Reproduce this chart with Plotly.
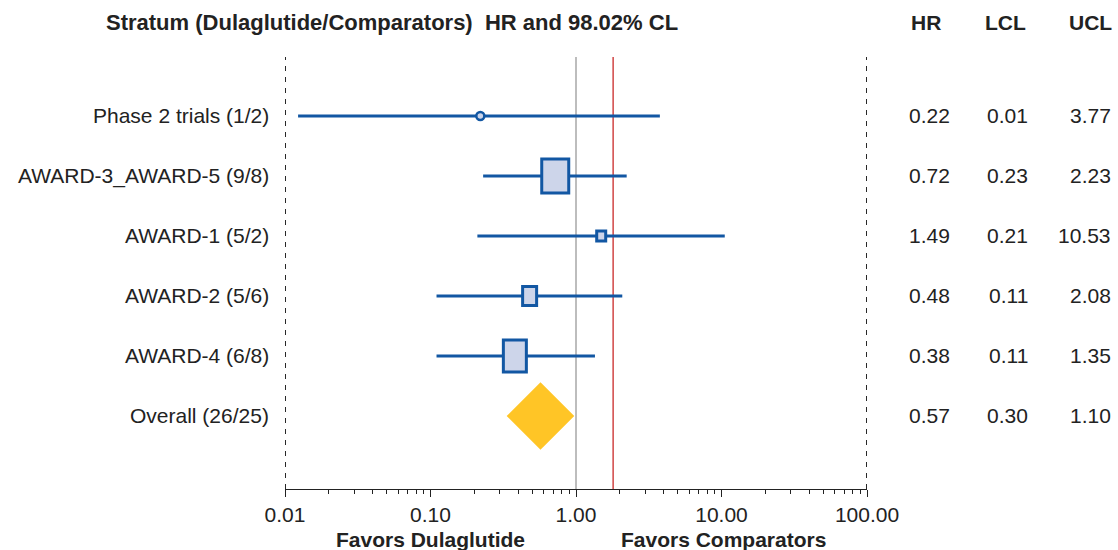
import plotly.graph_objects as go
import math

# ---- data ----
strata = ["Phase 2 trials (1/2)", "AWARD-3_AWARD-5 (9/8)", "AWARD-1 (5/2)",
          "AWARD-2 (5/6)", "AWARD-4 (6/8)", "Overall (26/25)"]
hr = [0.22, 0.72, 1.49, 0.48, 0.38, 0.57]
lcl = [0.01, 0.23, 0.21, 0.11, 0.11, 0.30]
ucl = [3.77, 2.23, 10.53, 2.08, 1.35, 1.10]
# CI line ends as drawn (lowest drawn slightly above 0.01)
ci_lo_drawn = [0.0123, 0.23, 0.21, 0.11, 0.11]
ci_hi_drawn = [3.77, 2.23, 10.53, 2.08, 1.35]
hr_txt = ["0.22", "0.72", "1.49", "0.48", "0.38", "0.57"]
lcl_txt = ["0.01", "0.23", "0.21", "0.11", "0.11", "0.30"]
ucl_txt = ["3.77", "2.23", "10.53", "2.08", "1.35", "1.10"]
margin_line = 1.8
tick_vals = [0.01, 0.1, 1, 10, 100]
tick_text = ["0.01", "0.10", "1.00", "10.00", "100.00"]

# ---- styles ----
BLUE = "#1257a3"
FILL = "#cdd5ea"
GOLD = "#ffc526"
RED = "#d4504f"
TXT = "#222"
FONT = "Liberation Sans, Arial, Helvetica, sans-serif"
FS = 21
box_w = [None, 27, 9, 14, 23]   # pixel sizes of weight boxes
box_h = [None, 34, 10, 19, 32]
PLOT_W = 582
PX_PER_DECADE = PLOT_W / (math.log10(tick_vals[-1]) - math.log10(tick_vals[0]))

rows = list(range(len(strata)))

fig = go.Figure()

# CI lines
for i in range(5):
    fig.add_trace(go.Scatter(x=[ci_lo_drawn[i], ci_hi_drawn[i]], y=[rows[i], rows[i]],
                             mode="lines", line=dict(color=BLUE, width=3),
                             showlegend=False, hoverinfo="skip"))

# phase 2 circle
fig.add_trace(go.Scatter(x=[hr[0]], y=[rows[0]], mode="markers",
                         marker=dict(symbol="circle", size=8, color=FILL,
                                     line=dict(color=BLUE, width=2.5)),
                         showlegend=False))

# overall diamond
fig.add_trace(go.Scatter(x=[hr[5]], y=[rows[5]], mode="markers",
                         marker=dict(symbol="diamond", size=52, color=GOLD,
                                     line=dict(width=0)),
                         showlegend=False))

shapes = []
# weight boxes, centred on HR with a fixed pixel width
for i in range(1, 5):
    half = box_w[i] / 2 / PX_PER_DECADE
    shapes.append(dict(type="rect", xref="x", yref="y",
                       x0=hr[i] * 10 ** (-half), x1=hr[i] * 10 ** half,
                       ysizemode="pixel", yanchor=rows[i],
                       y0=-box_h[i] / 2, y1=box_h[i] / 2,
                       fillcolor=FILL, line=dict(color=BLUE, width=3), layer="above"))

# reference lines
for xv in (tick_vals[0], tick_vals[-1]):
    shapes.append(dict(type="line", xref="x", yref="paper", x0=xv, x1=xv, y0=0, y1=1,
                       line=dict(color="#111", width=1.8, dash="5px,6px"), layer="below"))
shapes.append(dict(type="line", xref="x", yref="paper", x0=1, x1=1, y0=0, y1=1,
                   line=dict(color="#9a9a9a", width=1.3), layer="below"))
shapes.append(dict(type="line", xref="x", yref="paper", x0=margin_line, x1=margin_line, y0=0, y1=1,
                   line=dict(color=RED, width=1.6), layer="below"))

annotations = []
# row labels and numeric columns
for i in rows:
    annotations.append(dict(xref="paper", yref="y", x=-0.024, y=rows[i], text=strata[i],
                            xanchor="right", yanchor="middle", showarrow=False,
                            font=dict(family=FONT, size=FS, color=TXT)))
    for xp, col in ((1.146, hr_txt), (1.280, lcl_txt), (1.4227, ucl_txt)):
        annotations.append(dict(xref="paper", yref="y", x=xp, y=rows[i], text=col[i],
                                xanchor="right", yanchor="middle", showarrow=False,
                                font=dict(family=FONT, size=FS, color=TXT)))

# headers
annotations.append(dict(xref="paper", yref="paper", x=0.184, y=1.081,
                        text="<b>Stratum (Dulaglutide/Comparators)&nbsp; HR and 98.02% CL</b>",
                        xanchor="center", yanchor="middle", showarrow=False,
                        font=dict(family=FONT, size=22, color=TXT)))
for xp, t in ((1.1014, "HR"), (1.2388, "LCL"), (1.3832, "UCL")):
    annotations.append(dict(xref="paper", yref="paper", x=xp, y=1.081, text="<b>%s</b>" % t,
                            xanchor="center", yanchor="middle", showarrow=False,
                            font=dict(family=FONT, size=FS, color=TXT)))
# favors labels
for xp, t in ((0.25, "Favors Dulaglutide"), (0.7526, "Favors Comparators")):
    annotations.append(dict(xref="paper", yref="paper", x=xp, y=-0.117, text="<b>%s</b>" % t,
                            xanchor="center", yanchor="middle", showarrow=False,
                            font=dict(family=FONT, size=FS, color=TXT)))

minor_vals = [k * 10 ** e for e in range(-2, 2) for k in range(2, 10)]

fig.update_layout(
    width=1118, height=550,
    margin=dict(l=285, r=251, t=57, b=61),
    paper_bgcolor="white", plot_bgcolor="white",
    showlegend=False,
    shapes=shapes, annotations=annotations,
    xaxis=dict(type="log", range=[math.log10(tick_vals[0]), math.log10(tick_vals[-1])],
               tickvals=tick_vals, ticktext=tick_text,
               showgrid=False, zeroline=False,
               showline=True, linecolor="#222", linewidth=1.3,
               ticks="outside", ticklen=7, tickwidth=1.3, tickcolor="#222",
               tickfont=dict(family=FONT, size=FS, color=TXT),
               minor=dict(tickvals=minor_vals, ticks="outside", ticklen=4,
                          tickwidth=1.2, tickcolor="#222", showgrid=False)),
    yaxis=dict(range=[6.217, -0.983], showticklabels=False, showgrid=False,
               zeroline=False, showline=False, ticks=""),
)

fig.write_html("out.html", config={"displayModeBar": False},
               post_script="document.body.style.margin='0';document.body.style.overflow='hidden';")
